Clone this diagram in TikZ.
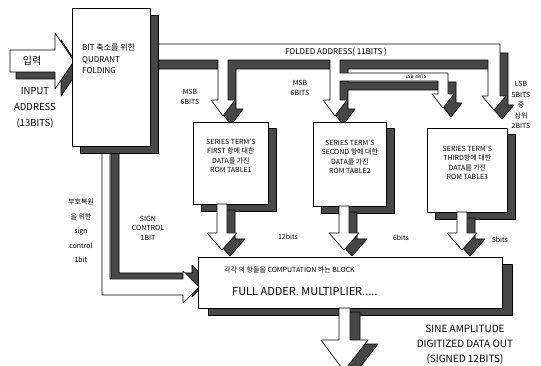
\documentclass[tikz,border=0pt]{standalone}
\usepackage{fontspec}
\setmainfont{Noto Sans CJK KR}
\begin{document}
\begin{tikzpicture}[x=1pt, y=-1pt, line join=round,
  face/.style={draw, fill=white, line width=0.7pt},
  drop/.style={draw, fill=black!72, line width=0.7pt},
  box/.style={face, anchor=north west, inner sep=0pt, align=center},
  lbl/.style={font=\fontsize{7}{9.5}\selectfont, align=center, inner sep=0pt}]
\useasboundingbox (0,0) rectangle (541,366);

% shapes of the fat arrows
\def\signpath{(102,140) -- (110,140) -- (110,279) -- (183,279) -- (183,271) -- (199,287)
  -- (183,303) -- (183,295) -- (102,295) -- cycle}
\def\inpath{(10,50) -- (55,50) -- (55,33) -- (74,61) -- (55,89) -- (55,72) -- (10,72) -- cycle}
\def\buspath{(150,44) -- (500,44) -- (500,96) -- (506,96) -- (494,110) -- (482,96)
  -- (488,96) -- (488,60) -- (340,60) -- (340,73) -- (448,73) -- (448,94) -- (454,94)
  -- (443,108) -- (432,94) -- (438,94) -- (438,81) -- (340,81) -- (340,100) -- (347,100)
  -- (335,116) -- (323,100) -- (330,100) -- (330,60) -- (228,60) -- (228,100) -- (235,100)
  -- (223,116) -- (211,100) -- (218,100) -- (218,60) -- (150,60) -- cycle}
\def\outpath{(339,308) -- (339,340) -- (321,340) -- (344,371) -- (368,340) -- (350,340) -- (350,308) -- cycle}

% sign control path
\draw[drop, shift={(9,-6)}] \signpath;
\draw[face] \signpath;
% input arrow
\draw[drop, shift={(6,7)}] \inpath;
\draw[face] \inpath;
% folded address bus with its branches
\draw[drop, shift={(8,9)}] \buspath;
\draw[face] \buspath;

% quadrant folding
\draw[drop] (80,15) rectangle (158,153);
\node[box, minimum width=78pt, minimum height=138pt] (fold) at (72,8) {};
\node[font=\fontsize{8}{11.5}\selectfont, align=left, anchor=north west, inner sep=0pt] (foldtxt) at (82,44)
  {BIT 축소를 위한\\QUDRANT\\FOLDING};

% ROM tables
\draw[drop] (201,128) rectangle (276,211);
\node[box, minimum width=75pt, minimum height=82pt, font=\fontsize{7}{9.5}\selectfont] (rom1) at (193,122)
  {SERIES TERM'S\\FIRST 항에 대한\\DATA를 가진\\ROM TABLE1\\[6pt]};
\draw[drop] (321,128) rectangle (394,213);
\node[box, minimum width=73pt, minimum height=84pt, font=\fontsize{7}{9.5}\selectfont] (rom2) at (313,122)
  {SERIES TERM'S\\SECOND 항에 대한\\DATA를 가진\\ROM TABLE2\\[6pt]};
\draw[drop] (435,134) rectangle (515,219);
\node[box, minimum width=80pt, minimum height=84pt, font=\fontsize{7}{9.5}\selectfont] (rom3) at (427,128)
  {SERIES TERM'S\\THIRD항에 대한\\DATA를 가진\\ROM TABLE3\\[6pt]};

% outputs of the tables
\foreach \cx/\yt in {222/204, 344/206, 462/212}{
  \draw[drop, shift={(8,6)}] (\cx-5,\yt) -- (\cx-5,233) -- (\cx-15,233) -- (\cx,250) -- (\cx+15,233)
    -- (\cx+5,233) -- (\cx+5,\yt) -- cycle;
  \draw[face] (\cx-5,\yt) -- (\cx-5,233) -- (\cx-15,233) -- (\cx,250) -- (\cx+15,233)
    -- (\cx+5,233) -- (\cx+5,\yt) -- cycle;
}

% computation block
\draw[drop] (208,264) rectangle (512,315);
\node[box, minimum width=304pt, minimum height=51pt] (calc) at (198,257) {};
\node[font=\fontsize{7}{9}\selectfont, anchor=west, inner sep=0pt] (calctop) at (224,270)
  {각각 의 항들을 COMPUTATION 하는 BLOCK};
\node[font=\fontsize{11}{13}\selectfont, anchor=west, inner sep=0pt] (calcmid) at (232,292)
  {FULL ADDER. MULTIPLIER.....};
% data out
\draw[drop, shift={(10,4)}] \outpath;
\draw[face] \outpath;

% labels
\node[font=\fontsize{10}{12}\selectfont, inner sep=0pt] (inlbl) at (32,61) {입력};
\node[font=\fontsize{9.5}{16}\selectfont, align=center, inner sep=0pt] (inaddr) at (35,108)
  {INPUT\\ADDRESS\\(13BITS)};
\node[font=\fontsize{8}{10}\selectfont, inner sep=0pt] (busl) at (336,52) {FOLDED ADDRESS( 11BITS )};
\node[lbl] (msb1) at (190,97) {MSB\\6BITS};
\node[lbl] (msb2) at (300,88) {MSB\\6BITS};
\node[font=\fontsize{4.5}{5}\selectfont, inner sep=0pt] (lsb3) at (416,77) {LSB 3BITS};
\node[lbl, font=\fontsize{7}{10.5}\selectfont] (lsb5) at (521,105) {LSB\\5BITS\\중\\상위\\2BITS};
\node[lbl] (b12) at (288,237) {12bits};
\node[lbl] (b6) at (401,238) {6bits};
\node[lbl] (b5) at (500,240) {5bits};
\node[lbl] (sgn) at (148,228) {SIGN\\CONTROL\\1BIT};
\node[lbl, font=\fontsize{7}{14.5}\selectfont] (sgnkr) at (81,231) {부호복원\\을 위한\\sign\\control\\1bit};
\node[font=\fontsize{10}{15}\selectfont, align=center, inner sep=0pt] (outl) at (465,345)
  {SINE AMPLITUDE\\DIGITIZED DATA OUT\\(SIGNED 12BITS)};
\end{tikzpicture}
\end{document}
